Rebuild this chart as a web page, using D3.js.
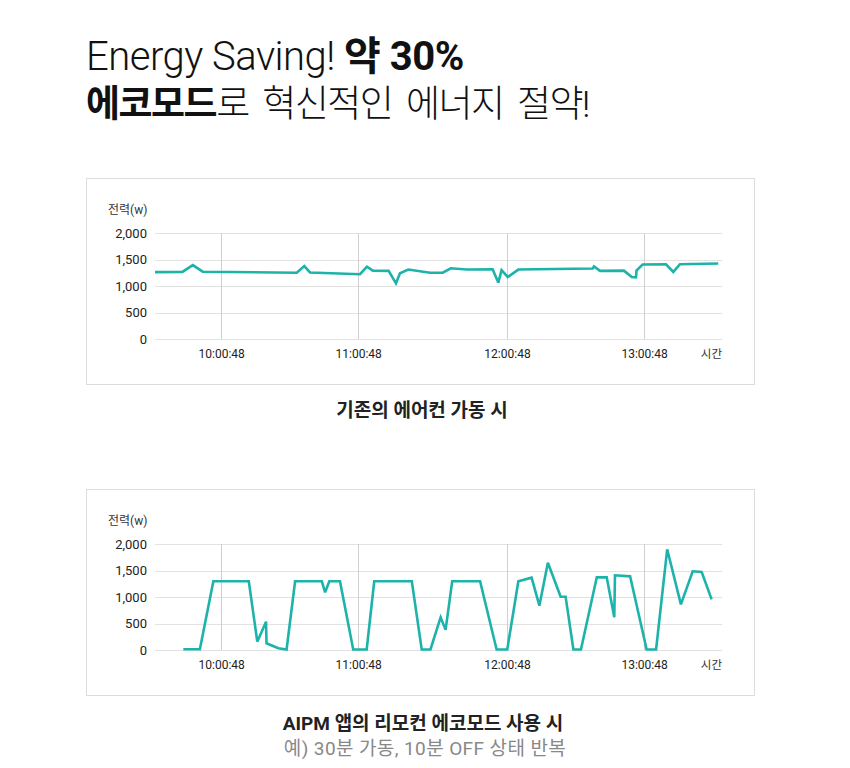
<!DOCTYPE html>
<html><head><meta charset="utf-8">
<script src="https://cdn.jsdelivr.net/npm/d3@7"></script>
<style>
html,body{margin:0;padding:0;background:#fff;}
svg{display:block;font-family:Roboto,"Noto Sans CJK KR",sans-serif;}
</style></head>
<body>
<script>
// ---- data ----
const yTicks = [0, 500, 1000, 1500, 2000];
const xTickValues = [28, 86, 149, 207];           // position along the (sample) axis
const xTickLabels = ["10:00:48", "11:00:48", "12:00:48", "13:00:48"];

// 기존의 에어컨 가동 시
const baseTime  = [0, 11.6, 16.0, 20.2, 60.0, 63.2, 65.6, 86.8, 89.7, 92.2, 98.9, 102.0, 103.7, 107.2, 116.4, 121.8, 125.2, 131.9, 142.9, 145.3, 146.7, 149.3, 153.8, 185.3, 185.8, 188.4, 198.5, 201.8, 203.6, 203.8, 206.4, 216.3, 219.4, 222.2, 238.4];
const basePower = [1262, 1265, 1395, 1270, 1250, 1375, 1255, 1222, 1365, 1290, 1285, 1050, 1240, 1310, 1250, 1250, 1335, 1310, 1315, 1064, 1300, 1170, 1310, 1330, 1368, 1285, 1290, 1170, 1165, 1290, 1405, 1410, 1265, 1410, 1425];

// AIPM 앱의 리모컨 에코모드 사용 시
const ecoTime  = [12.0, 19.0, 24.7, 39.7, 43.3, 47.0, 47.2, 52.2, 55.7, 59.3, 70.6, 72.0, 73.8, 78.3, 83.9, 89.6, 92.8, 108.7, 112.9, 116.6, 120.9, 123.0, 125.8, 137.6, 144.6, 149.1, 153.8, 159.4, 162.7, 166.3, 171.7, 173.8, 177.1, 180.3, 187.0, 191.2, 194.4, 194.7, 201.1, 208.1, 212.1, 216.8, 222.6, 227.6, 231.4, 235.6];
const ecoPower = [15, 15, 1296, 1296, 157, 535, 126, 32, 10, 1296, 1296, 1088, 1296, 1296, 10, 10, 1296, 1296, 10, 10, 617, 380, 1296, 1296, 10, 10, 1296, 1364, 836, 1647, 1006, 1006, 10, 10, 1371, 1371, 617, 1409, 1390, 10, 10, 1900, 862, 1485, 1472, 956];

const titleLine1 = [["Energy Saving! ", 300], ["약 30%", 700]];
const titleLine2 = [["에코모드", 700], ["로 혁신적인 에너지 절약!", 300]];
const caption1 = "기존의 에어컨 가동 시";
const caption2 = "AIPM 앱의 리모컨 에코모드 사용 시";
const caption2sub = "예) 30분 가동, 10분 OFF 상태 반복";
const yLabel = "전력(w)";
const xLabel = "시간";

// ---- drawing ----
const W = 850, H = 768;
const svg = d3.select("body").append("svg").attr("width", W).attr("height", H);

const t1 = svg.append("text").attr("x", 86).attr("y", 70)
  .attr("font-size", 40).attr("fill", "#111").attr("letter-spacing", "-0.5px");
titleLine1.forEach(([s, w]) => t1.append("tspan").attr("font-weight", w).text(s));

const t2 = svg.append("text").attr("x", 86).attr("y", 117)
  .attr("font-size", 37).attr("fill", "#111")
  .attr("letter-spacing", "-1.5px").attr("word-spacing", "6px");
titleLine2.forEach(([s, w]) => t2.append("tspan").attr("font-weight", w).text(s));

function drawChart(box, times, power) {
  const g = svg.append("g");
  g.append("rect").attr("x", box.x + 0.5).attr("y", box.y + 0.5)
    .attr("width", box.w).attr("height", box.h)
    .attr("fill", "#fff").attr("stroke", "#dcdcdc");

  const x = d3.scaleLinear().domain([0, 240]).range([155, 722]);
  const y = d3.scaleLinear().domain([0, 2000]).range([box.y + 161, box.y + 55]);

  // horizontal grid
  g.append("g").selectAll("line").data(yTicks).join("line")
    .attr("x1", x.range()[0]).attr("x2", x.range()[1])
    .attr("y1", d => Math.round(y(d)) + 0.5).attr("y2", d => Math.round(y(d)) + 0.5)
    .attr("stroke", "#e2e2e2").attr("stroke-width", 1.2);
  // vertical grid
  g.append("g").selectAll("line").data(xTickValues).join("line")
    .attr("x1", d => Math.round(x(d)) + 0.5).attr("x2", d => Math.round(x(d)) + 0.5)
    .attr("y1", y(2000)).attr("y2", y(0))
    .attr("stroke", "#cfcfcf").attr("stroke-width", 1);

  // y axis labels
  const yAxis = d3.axisLeft(y).tickValues(yTicks).tickSize(0).tickPadding(0)
    .tickFormat(d3.format(","));
  const ya = g.append("g").attr("transform", "translate(147,0)").call(yAxis);
  ya.select(".domain").remove();
  ya.selectAll("text").attr("font-size", 13).attr("font-weight", 400)
    .attr("fill", "#222").attr("font-family", "Roboto, 'Noto Sans CJK KR', sans-serif");

  // x axis labels
  const xAxis = d3.axisBottom(x).tickValues(xTickValues).tickSize(0).tickPadding(0)
    .tickFormat((d, i) => xTickLabels[i]);
  const xa = g.append("g").attr("transform", `translate(0,${y(0) + 10})`).call(xAxis);
  xa.select(".domain").remove();
  xa.selectAll("text").attr("font-size", 12).attr("font-weight", 400)
    .attr("fill", "#222").attr("font-family", "Roboto, 'Noto Sans CJK KR', sans-serif");

  g.append("text").attr("x", 722).attr("y", y(0) + 19).attr("text-anchor", "end")
    .attr("font-size", 11.5).attr("fill", "#333").text(xLabel);
  g.append("text").attr("x", 108).attr("y", box.y + 36)
    .attr("font-size", 12).attr("fill", "#333").text(yLabel);

  const pts = times.map((t, i) => [t, power[i]]);
  g.append("path").datum(pts)
    .attr("fill", "none").attr("stroke", "#1db3ab").attr("stroke-width", 2.6)
    .attr("stroke-linejoin", "miter").attr("stroke-miterlimit", 3)
    .attr("d", d3.line().x(d => x(d[0])).y(d => y(d[1])));
}

drawChart({x: 86, y: 178, w: 668, h: 206}, baseTime, basePower);
drawChart({x: 86, y: 489, w: 668, h: 206}, ecoTime, ecoPower);

svg.append("text").attr("x", 422).attr("y", 417).attr("text-anchor", "middle")
  .attr("font-size", 19).attr("font-weight", 700).attr("fill", "#222").text(caption1);
svg.append("text").attr("x", 423).attr("y", 730).attr("text-anchor", "middle")
  .attr("font-size", 19).attr("font-weight", 700).attr("fill", "#222").text(caption2);
svg.append("text").attr("x", 425).attr("y", 755).attr("text-anchor", "middle")
  .attr("font-size", 19).attr("font-weight", 400).attr("fill", "#888")
  .attr("letter-spacing", "0.4px").text(caption2sub);
</script>
</body></html>
